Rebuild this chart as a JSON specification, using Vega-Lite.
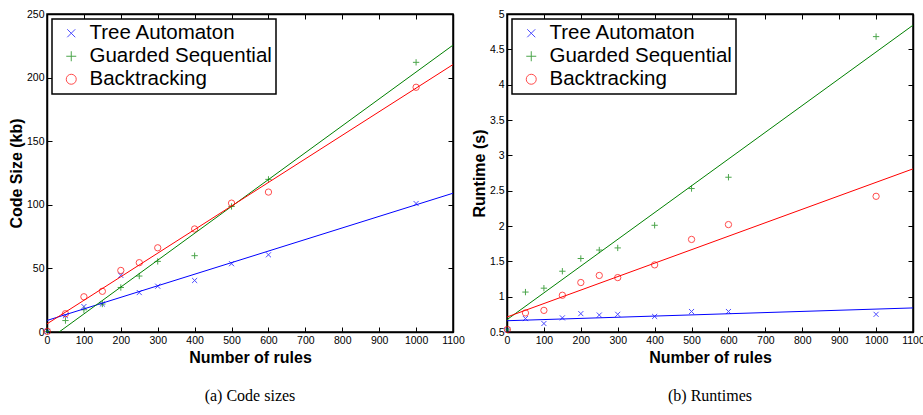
{
  "$schema": "https://vega.github.io/schema/vega-lite/v6.json",
  "padding": {"left": 7, "top": 8, "right": 0, "bottom": 5},
  "spacing": 4,
  "config": {
    "view": {"stroke": "black", "strokeWidth": 1.5},
    "font": "Liberation Sans",
    "axis": {"grid": false, "domainColor": "black", "domainWidth": 1.5, "tickColor": "black", "tickSize": -5, "labelPadding": 8, "labelFontSize": 10.5, "labelColor": "black", "labelFont": "Liberation Sans", "labelOverlap": false, "labelFlush": false, "titleFont": "Liberation Sans", "titleFontSize": 16, "titleFontWeight": "bold", "titleColor": "black"},
    "legend": {"labelFontSize": 20.5, "labelFont": "Liberation Sans", "labelColor": "black", "symbolSize": 100, "symbolStrokeWidth": 1, "strokeColor": "black", "strokeWidth": 1.5, "fillColor": "white", "padding": 4, "rowPadding": 2, "labelOffset": 8, "symbolOffset": 5, "labelLimit": 400, "labelExpr": "datum.label + '   '"},
    "title": {"font": "Liberation Serif", "fontSize": 16, "fontWeight": "normal", "color": "black"}
  },
  "datasets": {
    "code": [
      {"rules": 1, "series": "Tree Automaton", "value": 0.5},
      {"rules": 50, "series": "Tree Automaton", "value": 12.8},
      {"rules": 100, "series": "Tree Automaton", "value": 20},
      {"rules": 150, "series": "Tree Automaton", "value": 22},
      {"rules": 200, "series": "Tree Automaton", "value": 44.5},
      {"rules": 250, "series": "Tree Automaton", "value": 31},
      {"rules": 300, "series": "Tree Automaton", "value": 36},
      {"rules": 400, "series": "Tree Automaton", "value": 40.5},
      {"rules": 500, "series": "Tree Automaton", "value": 53.7},
      {"rules": 600, "series": "Tree Automaton", "value": 60.7},
      {"rules": 1000, "series": "Tree Automaton", "value": 101},
      {"rules": 1, "series": "Guarded Sequential", "value": 0.5},
      {"rules": 50, "series": "Guarded Sequential", "value": 9},
      {"rules": 100, "series": "Guarded Sequential", "value": 17.5},
      {"rules": 150, "series": "Guarded Sequential", "value": 22},
      {"rules": 200, "series": "Guarded Sequential", "value": 35},
      {"rules": 250, "series": "Guarded Sequential", "value": 44},
      {"rules": 300, "series": "Guarded Sequential", "value": 55.5},
      {"rules": 400, "series": "Guarded Sequential", "value": 60},
      {"rules": 500, "series": "Guarded Sequential", "value": 98.7},
      {"rules": 600, "series": "Guarded Sequential", "value": 120},
      {"rules": 1000, "series": "Guarded Sequential", "value": 212},
      {"rules": 1, "series": "Backtracking", "value": 0.5},
      {"rules": 50, "series": "Backtracking", "value": 14.4},
      {"rules": 100, "series": "Backtracking", "value": 27.7},
      {"rules": 150, "series": "Backtracking", "value": 32},
      {"rules": 200, "series": "Backtracking", "value": 48.4},
      {"rules": 250, "series": "Backtracking", "value": 54.5},
      {"rules": 300, "series": "Backtracking", "value": 66.2},
      {"rules": 400, "series": "Backtracking", "value": 81},
      {"rules": 500, "series": "Backtracking", "value": 101.3},
      {"rules": 600, "series": "Backtracking", "value": 110},
      {"rules": 1000, "series": "Backtracking", "value": 192.4}
    ],
    "runtime": [
      {"rules": 1, "series": "Tree Automaton", "value": 0.53},
      {"rules": 50, "series": "Tree Automaton", "value": 0.69},
      {"rules": 100, "series": "Tree Automaton", "value": 0.62},
      {"rules": 150, "series": "Tree Automaton", "value": 0.7},
      {"rules": 200, "series": "Tree Automaton", "value": 0.76},
      {"rules": 250, "series": "Tree Automaton", "value": 0.74},
      {"rules": 300, "series": "Tree Automaton", "value": 0.75},
      {"rules": 400, "series": "Tree Automaton", "value": 0.72},
      {"rules": 500, "series": "Tree Automaton", "value": 0.79},
      {"rules": 600, "series": "Tree Automaton", "value": 0.79},
      {"rules": 1000, "series": "Tree Automaton", "value": 0.75},
      {"rules": 1, "series": "Guarded Sequential", "value": 0.53},
      {"rules": 50, "series": "Guarded Sequential", "value": 1.065},
      {"rules": 100, "series": "Guarded Sequential", "value": 1.12},
      {"rules": 150, "series": "Guarded Sequential", "value": 1.36},
      {"rules": 200, "series": "Guarded Sequential", "value": 1.54},
      {"rules": 250, "series": "Guarded Sequential", "value": 1.66},
      {"rules": 300, "series": "Guarded Sequential", "value": 1.69},
      {"rules": 400, "series": "Guarded Sequential", "value": 2.01},
      {"rules": 500, "series": "Guarded Sequential", "value": 2.53},
      {"rules": 600, "series": "Guarded Sequential", "value": 2.69},
      {"rules": 1000, "series": "Guarded Sequential", "value": 4.68},
      {"rules": 1, "series": "Backtracking", "value": 0.535},
      {"rules": 50, "series": "Backtracking", "value": 0.77},
      {"rules": 100, "series": "Backtracking", "value": 0.806},
      {"rules": 150, "series": "Backtracking", "value": 1.02},
      {"rules": 200, "series": "Backtracking", "value": 1.2},
      {"rules": 250, "series": "Backtracking", "value": 1.3},
      {"rules": 300, "series": "Backtracking", "value": 1.27},
      {"rules": 400, "series": "Backtracking", "value": 1.45},
      {"rules": 500, "series": "Backtracking", "value": 1.81},
      {"rules": 600, "series": "Backtracking", "value": 2.02},
      {"rules": 1000, "series": "Backtracking", "value": 2.42}
    ]
  },
  "hconcat": [
    {
      "width": 406,
      "height": 318,
      "data": {"name": "code"},
      "title": {"text": "(a) Code sizes", "orient": "bottom", "offset": 22, "frame": "group"},
      "layer": [
        {
          "mark": {"type": "point", "filled": false, "strokeWidth": 1, "size": 40, "clip": false},
          "encoding": {
            "x": {"field": "rules", "type": "quantitative", "scale": {"domain": [0, 1100], "nice": false}, "axis": {"orient": "bottom", "title": "Number of rules", "format": "d", "values": [0,100,200,300,400,500,600,700,800,900,1000,1100], "titlePadding": 4}},
            "y": {"field": "value", "type": "quantitative", "scale": {"domain": [0, 250], "nice": false}, "axis": {"orient": "left", "title": "Code Size (kb)", "format": "d", "values": [0,50,100,150,200,250], "titlePadding": 2}},
            "color": {"field": "series", "type": "nominal", "scale": {"domain": ["Tree Automaton", "Guarded Sequential", "Backtracking"], "range": ["#0000ff", "#008000", "#ff0000"]}, "legend": {"title": null, "orient": "top-left", "offset": 5}},
            "shape": {"field": "series", "type": "nominal", "scale": {"domain": ["Tree Automaton", "Guarded Sequential", "Backtracking"], "range": ["M-0.8,-0.8L0.8,0.8M0.8,-0.8L-0.8,0.8", "M-1,0L1,0M0,-1L0,1", "circle"]}, "legend": {"title": null, "orient": "top-left", "offset": 5}}
          }
        },
        {
          "mark": {"type": "line", "clip": true, "strokeWidth": 1},
          "transform": [{"regression": "value", "on": "rules", "groupby": ["series"], "extent": [0, 1100]}],
          "encoding": {
            "x": {"field": "rules", "type": "quantitative", "scale": {"domain": [0, 1100], "nice": false}, "axis": {"orient": "top", "labels": false, "title": null, "values": [0,100,200,300,400,500,600,700,800,900,1000,1100]}},
            "y": {"field": "value", "type": "quantitative", "scale": {"domain": [0, 250], "nice": false}, "axis": {"orient": "right", "labels": false, "title": null, "values": [0,50,100,150,200,250]}},
            "stroke": {"field": "series", "type": "nominal", "scale": {"domain": ["Tree Automaton", "Guarded Sequential", "Backtracking"], "range": ["#0000ff", "#008000", "#ff0000"]}, "legend": null}
          }
        }
      ],
      "resolve": {"axis": {"x": "independent", "y": "independent"}}
    },
    {
      "width": 406,
      "height": 318,
      "data": {"name": "runtime"},
      "title": {"text": "(b) Runtimes", "orient": "bottom", "offset": 22, "frame": "group"},
      "layer": [
        {
          "mark": {"type": "point", "filled": false, "strokeWidth": 1, "size": 40, "clip": false},
          "encoding": {
            "x": {"field": "rules", "type": "quantitative", "scale": {"domain": [0, 1100], "nice": false}, "axis": {"orient": "bottom", "title": "Number of rules", "format": "d", "values": [0,100,200,300,400,500,600,700,800,900,1000,1100], "titlePadding": 4}},
            "y": {"field": "value", "type": "quantitative", "scale": {"domain": [0.5, 5], "nice": false, "zero": false}, "axis": {"orient": "left", "title": "Runtime (s)", "format": "~g", "values": [0.5,1,1.5,2,2.5,3,3.5,4,4.5,5], "titlePadding": 2}},
            "color": {"field": "series", "type": "nominal", "scale": {"domain": ["Tree Automaton", "Guarded Sequential", "Backtracking"], "range": ["#0000ff", "#008000", "#ff0000"]}, "legend": {"title": null, "orient": "top-left", "offset": 5}},
            "shape": {"field": "series", "type": "nominal", "scale": {"domain": ["Tree Automaton", "Guarded Sequential", "Backtracking"], "range": ["M-0.8,-0.8L0.8,0.8M0.8,-0.8L-0.8,0.8", "M-1,0L1,0M0,-1L0,1", "circle"]}, "legend": {"title": null, "orient": "top-left", "offset": 5}}
          }
        },
        {
          "mark": {"type": "line", "clip": true, "strokeWidth": 1},
          "transform": [{"regression": "value", "on": "rules", "groupby": ["series"], "extent": [0, 1100]}],
          "encoding": {
            "x": {"field": "rules", "type": "quantitative", "scale": {"domain": [0, 1100], "nice": false}, "axis": {"orient": "top", "labels": false, "title": null, "values": [0,100,200,300,400,500,600,700,800,900,1000,1100]}},
            "y": {"field": "value", "type": "quantitative", "scale": {"domain": [0.5, 5], "nice": false, "zero": false}, "axis": {"orient": "right", "labels": false, "title": null, "values": [0.5,1,1.5,2,2.5,3,3.5,4,4.5,5]}},
            "stroke": {"field": "series", "type": "nominal", "scale": {"domain": ["Tree Automaton", "Guarded Sequential", "Backtracking"], "range": ["#0000ff", "#008000", "#ff0000"]}, "legend": null}
          }
        }
      ],
      "resolve": {"axis": {"x": "independent", "y": "independent"}}
    }
  ],
  "resolve": {"scale": {"color": "independent", "shape": "independent", "stroke": "independent"}}
}
